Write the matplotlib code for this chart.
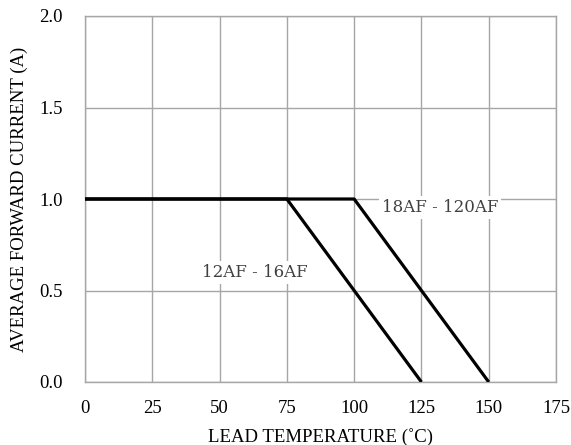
import matplotlib.pyplot as plt

# derating curves
temp_small = [0, 75, 125]
current_small = [1.0, 1.0, 0.0]
temp_large = [0, 100, 150]
current_large = [1.0, 1.0, 0.0]

x_ticks = [0, 25, 50, 75, 100, 125, 150, 175]
y_ticks = [0.0, 0.5, 1.0, 1.5, 2.0]

plt.rcParams['font.family'] = ['Liberation Serif', 'DejaVu Serif']

fig = plt.figure(figsize=(5.71, 4.45), dpi=100)
ax = fig.add_axes([85 / 571, 63 / 445, 471 / 571, 366 / 445])

ax.plot(temp_large, current_large, color='black', lw=2.3, solid_capstyle='butt', zorder=3)
ax.plot(temp_small, current_small, color='black', lw=2.3, solid_capstyle='butt', zorder=3)

ax.set_xlim(0, 175)
ax.set_ylim(0, 2.0)
ax.set_xticks(x_ticks)
ax.set_yticks(y_ticks)
ax.set_yticklabels([f'{v:.1f}' for v in y_ticks])
ax.grid(True, color='#a6a6a6', lw=1.0)
ax.set_axisbelow(True)
for s in ax.spines.values():
    s.set_color('#a6a6a6')
    s.set_linewidth(1.0)
ax.tick_params(length=0, labelsize=13.5)
ax.tick_params(axis='x', pad=13)
ax.tick_params(axis='y', pad=16)

ax.set_xlabel('LEAD TEMPERATURE (˚C)', fontsize=13.5, labelpad=8)
ax.set_ylabel('AVERAGE FORWARD CURRENT (A)', fontsize=13.5, labelpad=8)

box = dict(facecolor='white', edgecolor='none', pad=2)
ax.text(132, 0.955, '18AF - 120AF', ha='center', va='center', fontsize=12,
        family=['DejaVu Serif'], color='#404040', bbox=box, zorder=4)
ax.text(63, 0.60, '12AF - 16AF', ha='center', va='center', fontsize=12,
        family=['DejaVu Serif'], color='#404040', bbox=box, zorder=4)

fig.savefig('out.png', dpi=100)
